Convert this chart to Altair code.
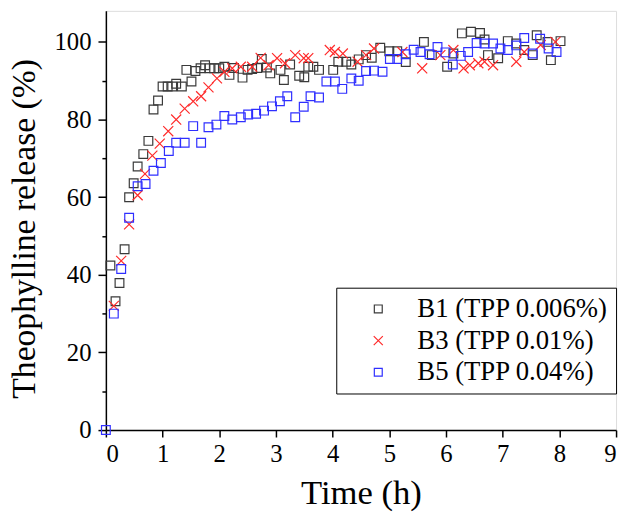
import altair as alt
import pandas as pd

# B1 (TPP 0.006%)
b1_t = [0.08, 0.17, 0.24, 0.33, 0.41, 0.49, 0.56, 0.66, 0.75, 0.84, 0.92, 1.00, 1.09, 1.17, 1.24,
        1.34, 1.42, 1.51, 1.58, 1.67, 1.75, 1.83, 1.91, 2.00, 2.09, 2.18, 2.26, 2.41, 2.50, 2.58,
        2.67, 2.75, 2.84, 2.90, 3.08, 3.14, 3.25, 3.41, 3.50, 3.57, 3.66, 3.76, 4.01, 4.10, 4.24,
        4.33, 4.46, 4.59, 4.69, 4.84, 5.00, 5.14, 5.29, 5.61, 5.75, 6.02, 6.13, 6.28, 6.44, 6.60,
        6.68, 6.74, 6.92, 7.09, 7.24, 7.38, 7.53, 7.60, 7.79, 7.85, 8.02]
b1_v = [42.4, 33.2, 37.9, 46.6, 60.0, 63.6, 67.9, 71.1, 74.5, 82.6, 84.9, 88.5, 88.5, 88.5, 89.2,
        88.5, 92.8, 89.8, 92.5, 93.2, 94.0, 93.2, 93.2, 93.2, 93.6, 91.5, 93.3, 90.8, 92.8, 93.0,
        93.3, 95.6, 93.4, 91.9, 92.8, 90.2, 94.2, 91.3, 90.9, 93.6, 93.6, 92.8, 92.8, 94.9, 94.9,
        94.2, 95.5, 96.6, 95.9, 98.5, 97.6, 97.6, 94.8, 100.0, 96.6, 93.6, 97.0, 102.2, 102.6, 102.3,
        100.6, 96.6, 95.8, 100.2, 99.6, 97.9, 96.6, 101.7, 100.0, 95.3, 100.2]

# B3 (TPP 0.01%)
b3_t = [0.14, 0.27, 0.41, 0.56, 0.69, 0.82, 0.95, 1.10, 1.24, 1.39, 1.54, 1.68, 1.81, 1.96, 2.09,
        2.23, 2.38, 2.58, 2.73, 2.87, 3.02, 3.16, 3.34, 3.49, 3.57, 3.95, 4.04, 4.18, 4.44, 4.59,
        4.73, 5.23, 5.58, 5.90, 6.13, 6.31, 6.42, 6.57, 6.68, 6.83, 7.24, 7.38, 7.67, 7.93]
b3_v = [32.0, 43.6, 53.0, 60.5, 66.0, 70.7, 73.8, 77.0, 80.0, 82.8, 84.7, 86.0, 88.3, 90.6, 92.3,
        93.2, 93.6, 93.6, 95.9, 94.0, 95.8, 94.5, 96.6, 95.8, 95.8, 97.9, 97.4, 97.0, 94.9, 96.6,
        98.3, 97.4, 93.2, 96.6, 97.9, 93.2, 94.0, 94.5, 94.9, 94.0, 94.9, 97.4, 99.2, 100.0]

# B5 (TPP 0.04%)
b5_t = [0.00, 0.14, 0.27, 0.41, 0.56, 0.70, 0.84, 0.97, 1.11, 1.24, 1.39, 1.54, 1.68, 1.81, 1.95,
        2.09, 2.23, 2.38, 2.51, 2.65, 2.79, 2.93, 3.07, 3.20, 3.34, 3.49, 3.61, 3.76, 3.89, 4.04,
        4.17, 4.33, 4.46, 4.59, 4.73, 4.88, 5.01, 5.14, 5.29, 5.43, 5.55, 5.71, 5.85, 5.99, 6.12,
        6.26, 6.39, 6.54, 6.68, 6.83, 6.96, 7.09, 7.24, 7.38, 7.53, 7.66, 7.81, 7.95]
b5_v = [0.0, 30.0, 41.5, 54.7, 62.8, 63.4, 66.8, 68.8, 71.9, 74.0, 74.0, 78.3, 74.0, 78.0, 78.7,
        80.9, 80.0, 80.6, 81.3, 81.5, 82.3, 83.4, 84.7, 86.0, 80.6, 83.3, 86.0, 85.7, 89.8, 89.8,
        87.9, 90.6, 90.0, 92.5, 92.6, 92.3, 95.6, 95.6, 96.8, 98.0, 97.4, 96.8, 98.7, 97.3, 94.2,
        96.4, 97.4, 99.7, 99.6, 99.6, 98.3, 97.9, 99.1, 101.0, 97.0, 100.8, 98.3, 97.4]

series_names = ["B1 (TPP 0.006%)", "B3 (TPP 0.01%)", "B5 (TPP 0.04%)"]
series_colors = ["#3a3a3a", "#ff2a2a", "#2f2fff"]
series_shapes = ["square", "M-1.15,-1.15L1.15,1.15M-1.15,1.15L1.15,-1.15", "square"]

rows = []
for name, ts, vs in zip(series_names, [b1_t, b3_t, b5_t], [b1_v, b3_v, b5_v]):
    for t, v in zip(ts, vs):
        rows.append({"time": t, "release": v, "series": name})
df = pd.DataFrame(rows)

FONT = "Liberation Serif"

chart = alt.Chart(df).mark_point(filled=False, size=78, strokeWidth=1.2, opacity=1).encode(
    x=alt.X("time:Q",
            scale=alt.Scale(domain=[0, 9], nice=False, zero=False),
            axis=alt.Axis(values=list(range(10)), title="Time (h)", grid=False,
                          tickSize=7, labelPadding=5, tickColor="black", tickWidth=1.5,
                          domainColor="black", domainWidth=1.5,
                          labelFont=FONT, labelFontSize=25, labelColor="black",
                          titleFont=FONT, titleFontSize=35, titleFontWeight="normal",
                          titleColor="black", titleY=46, titleBaseline="top")),
    y=alt.Y("release:Q",
            scale=alt.Scale(domain=[0, 108], nice=False),
            axis=alt.Axis(values=list(range(0, 101, 10)), title="Theophylline release (%)",
                          grid=False,
                          tickSize={"condition": {"test": "datum.value % 20 !== 0", "value": 4}, "value": 8},
                          labelExpr="datum.value % 20 === 0 ? datum.label : ''",
                          labelPadding=7, tickColor="black", tickWidth=1.5,
                          domainColor="black", domainWidth=1.5,
                          labelFont=FONT, labelFontSize=25, labelColor="black",
                          titleFont=FONT, titleFontSize=34, titleFontWeight="normal",
                          titleColor="black", titleX=-82, titleY=220, titleAngle=270,
                          titleBaseline="middle", titleAlign="center")),
    color=alt.Color("series:N",
                    scale=alt.Scale(domain=series_names, range=series_colors),
                    legend=alt.Legend(title=None, orient="none", legendX=233, legendY=280,
                                      strokeColor="black", fillColor="white", padding=8,
                                      rowPadding=4, symbolOffset=21, labelOffset=26,
                                      symbolSize=64, symbolStrokeWidth=1.2,
                                      labelFont=FONT, labelFontSize=27, labelColor="black",
                                      labelLimit=400)),
    shape=alt.Shape("series:N",
                    scale=alt.Scale(domain=series_names, range=series_shapes),
                    legend=None),
).properties(
    width=516,
    height=424,
    autosize=alt.AutoSizeParams(type="none"),
    padding={"left": 99, "top": 0, "right": 6, "bottom": 83},
).configure_view(
    stroke="black", strokeWidth=1.5
).configure(background="white")

chart.save("out.html", embed_options={"renderer": "svg", "actions": False})
